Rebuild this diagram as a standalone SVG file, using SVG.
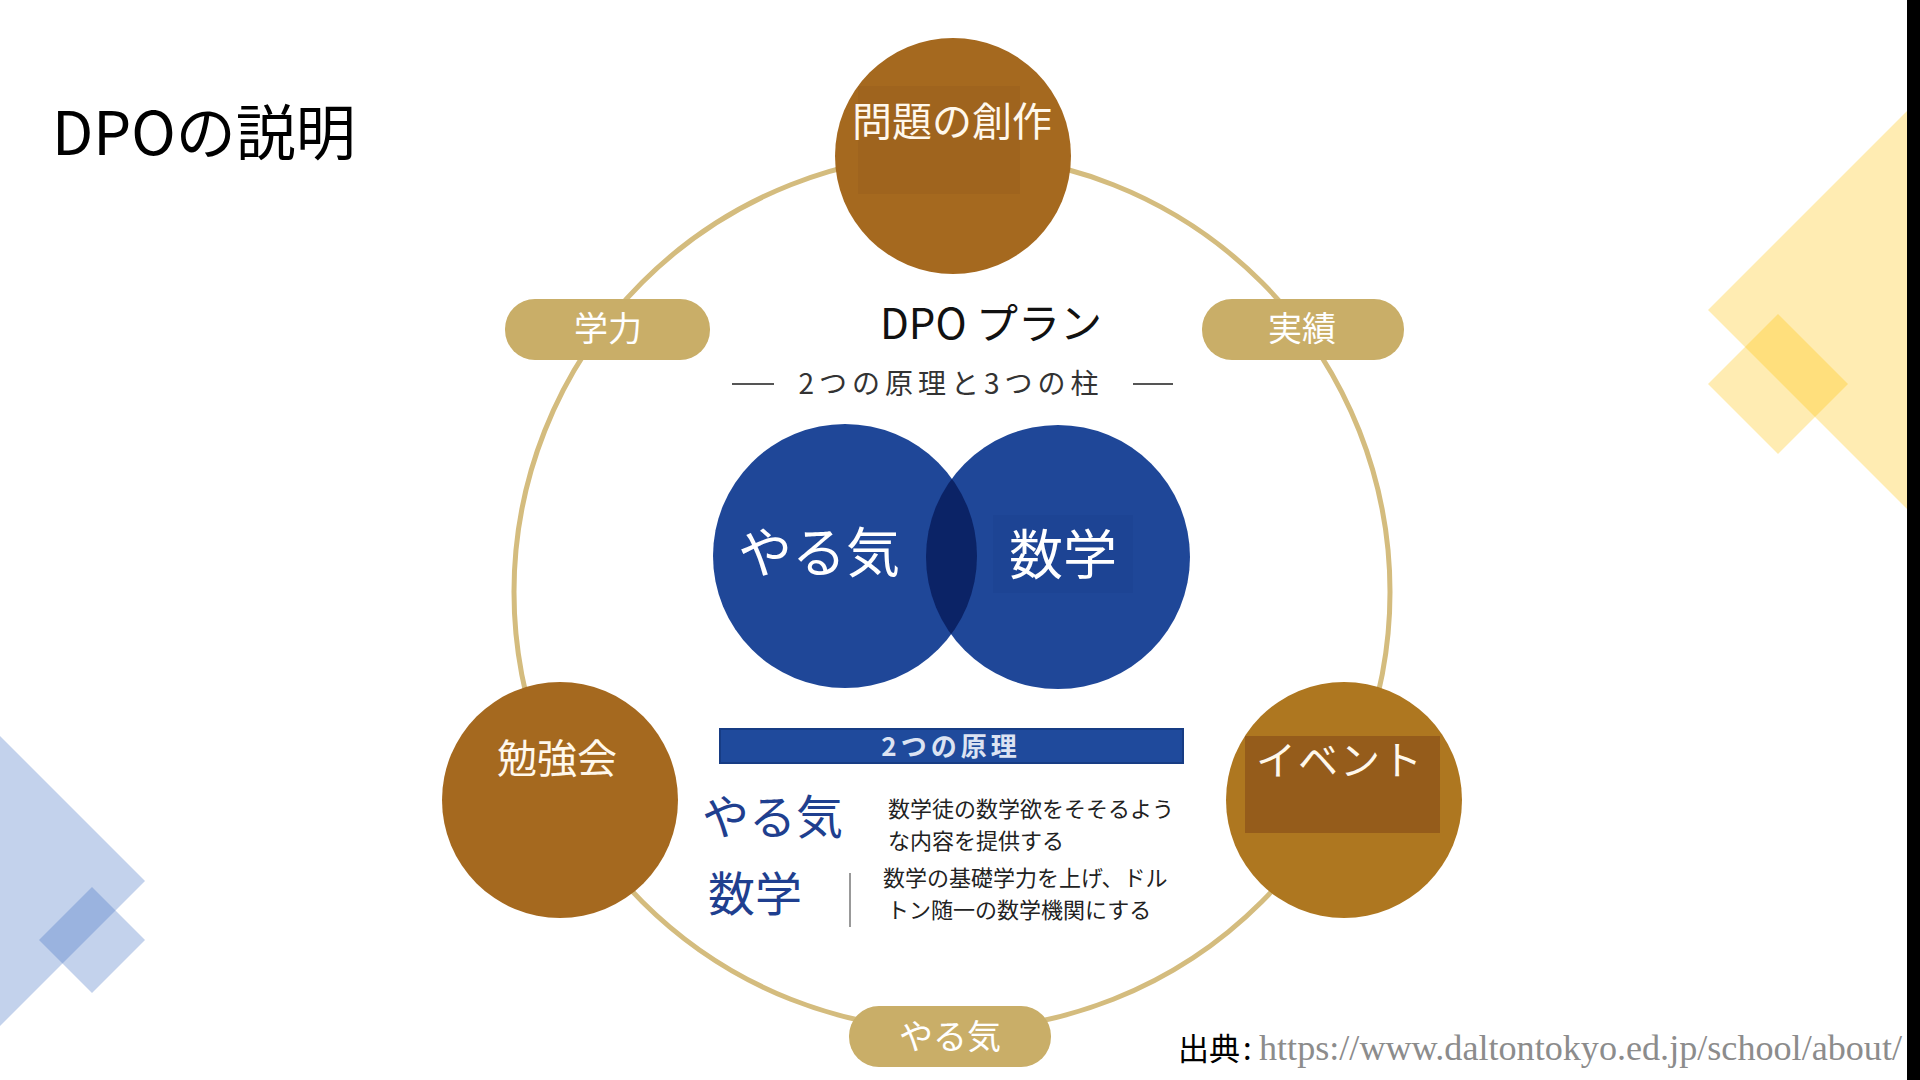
<svg xmlns="http://www.w3.org/2000/svg" width="1920" height="1080" viewBox="0 0 1920 1080">
<defs>
<style>
.jp{font-family:"Noto Sans CJK JP","Noto Sans",sans-serif;}
.brown{fill:#A5691F;}
.ctext{fill:#FFF8EC;font-size:40px;text-anchor:middle;}
.pill{fill:#C9AE68;}
.ptext{fill:#FFFFFF;font-size:34px;text-anchor:middle;}
.yel{fill:#FFC000;fill-opacity:0.3;}
.blu{fill:#4472C4;fill-opacity:0.32;}
.desc{fill:#222222;font-size:22px;}
</style>
<clipPath id="leftC"><circle cx="845" cy="556" r="132"/></clipPath>
</defs>
<rect x="0" y="0" width="1920" height="1080" fill="#FFFFFF"/>

<!-- decorative shapes -->
<polygon class="yel" points="1708,310 1920,98 1920,522"/>
<polygon class="yel" points="1778,314 1848,384 1778,454 1708,384"/>
<polygon class="blu" points="0,736 145,881 0,1026"/>
<polygon class="blu" points="92,887 145,940 92,993 39,940"/>
<rect x="1907" y="0" width="13" height="1080" fill="#000000"/>

<text class="jp" x="52" y="155" font-size="60" fill="#000000">DPOの説明</text>

<g id="connectors">
<circle cx="952" cy="592" r="438" fill="none" stroke="#D4BC7E" stroke-width="5"/>
</g>

<g id="node-mondai">
<circle class="brown" cx="953" cy="156" r="118"/>
<rect x="858" y="86" width="162" height="108" fill="#9F641E"/>
<text class="jp ctext" x="952" y="136">問題の創作</text>
</g>

<g id="node-benkyo">
<circle class="brown" cx="560" cy="800" r="118"/>
<text class="jp ctext" x="557" y="773" font-size="38">勉強会</text>
</g>

<g id="node-event">
<circle cx="1344" cy="800" r="118" fill="#AE7720"/>
<rect x="1245" y="736" width="195" height="97" fill="#955C1B"/>
<text class="jp ctext" x="1340" y="775" font-size="38" letter-spacing="2">イベント</text>
</g>

<g id="node-gakuryoku">
<rect class="pill" x="505" y="299" width="205" height="61" rx="30"/>
<text class="jp ptext" x="608" y="341">学力</text>
</g>

<g id="node-jisseki">
<rect class="pill" x="1202" y="299" width="202" height="61" rx="30"/>
<text class="jp ptext" x="1302" y="341">実績</text>
</g>

<g id="node-yaruki-pill">
<rect class="pill" x="849" y="1006" width="202" height="61" rx="30"/>
<text class="jp ptext" x="950" y="1049">やる気</text>
</g>

<g id="node-plan">
<text class="jp" x="991" y="339" font-size="42" text-anchor="middle" fill="#111111">DPO プラン</text>
<line x1="732" y1="384" x2="774" y2="384" stroke="#555555" stroke-width="2"/>
<line x1="1133" y1="384" x2="1173" y2="384" stroke="#555555" stroke-width="2"/>
<text class="jp" x="951" y="394" font-size="28" letter-spacing="5" text-anchor="middle" fill="#333333">2つの原理と3つの柱</text>
</g>

<g id="node-venn">
<circle cx="845" cy="556" r="132" fill="#1F4798"/>
<circle cx="1058" cy="557" r="132" fill="#1F4798"/>
<circle cx="1058" cy="557" r="132" fill="#0B2366" clip-path="url(#leftC)"/>
<rect x="993" y="515" width="140" height="78" fill="#1D4494"/>
<text class="jp" x="819" y="573" font-size="54" text-anchor="middle" fill="#FFFFFF">やる気</text>
<text class="jp" x="1063" y="575" font-size="54" text-anchor="middle" fill="#FFFFFF">数学</text>
</g>

<g id="node-principles">
<rect x="720" y="729" width="463" height="34" fill="#1F4A9C" stroke="#173C84" stroke-width="2"/>
<text class="jp" x="951" y="756" font-size="26" font-weight="bold" letter-spacing="4" text-anchor="middle" fill="#DCE3F2">2つの原理</text>
<text class="jp" x="702" y="834" font-size="47" fill="#1F3F8F">やる気</text>
<text class="jp" x="708" y="911" font-size="47" fill="#1F3F8F">数学</text>
<line x1="850" y1="873" x2="850" y2="927" stroke="#999999" stroke-width="2"/>
<text class="jp desc" x="888" y="817">数学徒の数学欲をそそるよう</text>
<text class="jp desc" x="888" y="849">な内容を提供する</text>
<text class="jp desc" x="883" y="886">数学の基礎学力を上げ、ドル</text>
<text class="jp desc" x="887" y="918">トン随一の数学機関にする</text>
</g>

<text x="1178" y="1060"><tspan class="jp" font-size="31" fill="#000000">出典</tspan><tspan x="1243" class="jp" font-size="31" fill="#000000">:</tspan><tspan x="1259" font-family="Liberation Serif, serif" font-size="35" fill="#8C8C8C" textLength="643" lengthAdjust="spacingAndGlyphs">https://www.daltontokyo.ed.jp/school/about/</tspan></text>
</svg>
